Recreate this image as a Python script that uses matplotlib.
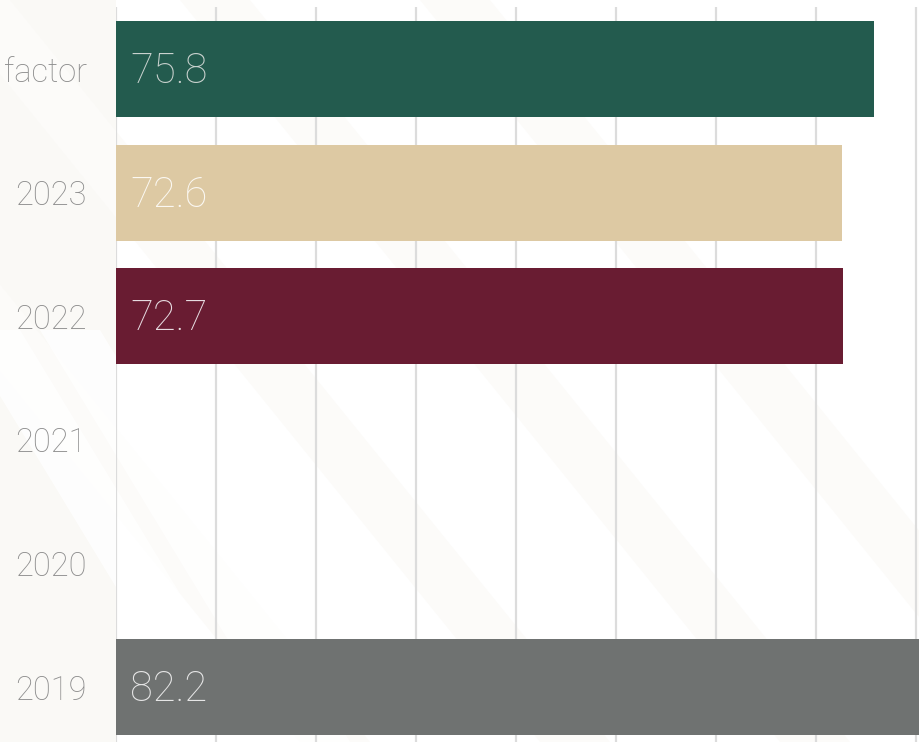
import numpy as np
import matplotlib
matplotlib.use("Agg")
import matplotlib.pyplot as plt
from matplotlib.patches import Polygon, Rectangle

# Data
categories = ["factor", "2023", "2022", "2021", "2020", "2019"]
values = [75.8, 72.6, 72.7, np.nan, np.nan, 82.2]
bar_colors = ["#235B4E", "#DDC9A3", "#691C32", "#FFFFFF", "#FFFFFF", "#6F7271"]
label_colors = ["#c9d2ce", "#fbf8f2", "#e6dbe0", "#ffffff", "#ffffff", "#e6e6e6"]
grid_ticks = [0, 10, 20, 30, 40, 50, 60, 70, 80]

FONT = ["Roboto", "DejaVu Sans"]

W, H = 919, 742
fig = plt.figure(figsize=(W / 100, H / 100), dpi=100)
fig.patch.set_facecolor("white")

# faint background watermark: cream tint with diagonal light bands
bg = fig.add_axes([0, 0, 1, 1], zorder=0)
bg.set_xlim(0, W)
bg.set_ylim(H, 0)
bg.axis("off")
bg.add_patch(Rectangle((0, 0), 116, H, color="#faf9f6", lw=0))
band_color = "#fcfbf9"
for x0 in (-300, -60, 180, 420):
    bg.add_patch(Polygon([(x0, 0), (x0 + 70, 0), (x0 + 670, H), (x0 + 600, H)],
                         closed=True, color=band_color, lw=0))
for x0 in (-40, 40):
    bg.add_patch(Polygon([(x0, 330), (x0 + 60, 330), (x0 + 310, 742), (x0 + 250, 742)],
                         closed=True, color="white", lw=0, alpha=0.8))

# main axes: 10 px per unit, zero at x=116, extending past the right edge
left = 116 / W
width = 850 / W
top_px, bot_px = 7.2, 749.0
ax = fig.add_axes([left, (H - bot_px) / H, width, (bot_px - top_px) / H], zorder=1)
ax.patch.set_alpha(0)

y = np.arange(len(categories))
for i, (v, c) in enumerate(zip(values, bar_colors)):
    if np.isnan(v):
        continue
    ax.barh(y[i], v, height=0.777, color=c, zorder=3, lw=0)
    ax.text(1.4, y[i] + 0.02, f"{v:.1f}", va="center", ha="left", fontsize=30,
            family=FONT, fontweight="light",
            color=label_colors[i], zorder=4)

ax.set_xlim(0, 85)
ax.set_ylim(len(categories) - 0.5, -0.5)
ax.set_xticks(grid_ticks)
ax.xaxis.grid(True, color="#dcdcdc", lw=1.6, zorder=1)
ax.tick_params(axis="x", length=0, labelbottom=False)
ax.set_yticks(y)
ax.set_yticklabels(categories, fontsize=23.5, family=FONT,
                   fontweight="light", color="#8c8c8c")
ax.tick_params(axis="y", length=0, pad=21)
for s in ax.spines.values():
    s.set_visible(False)

fig.savefig("out.png", dpi=100)
